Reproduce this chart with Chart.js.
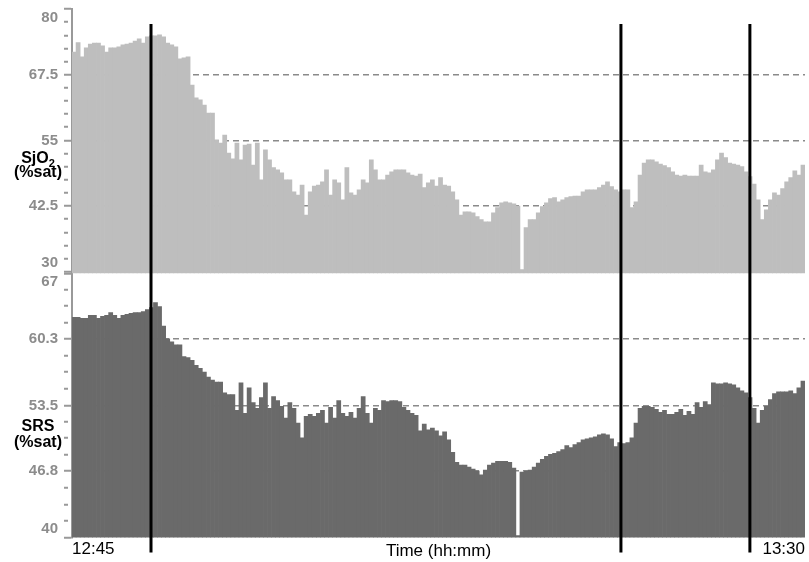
<!DOCTYPE html>
<html>
<head>
<meta charset="utf-8">
<script src="https://cdn.jsdelivr.net/npm/chart.js@4/dist/chart.umd.min.js"></script>
<style>
  html, body { margin: 0; padding: 0; background: #fff; }
  #wrap { position: relative; width: 809px; height: 562px; }
</style>
</head>
<body>
<div id="wrap"><canvas id="teh_canvas" width="809" height="562"></canvas></div>
<script>
// one bar every 15 s from 12:45 to 13:30
var startTime = '12:45:00';
var stepSeconds = 15;
var xEndLabels = ['12:45', '13:30'];
var xTitle = 'Time (hh:mm)';
var markerTimes = ['12:49:51', '13:18:42', '13:26:37'];

var sjo2Ticks = [30, 42.5, 55, 67.5, 80];
var srsTicks = [40, 46.8, 53.5, 60.3, 67];

var sjo2Values = [
  71.8, 73.6, 70.9, 72.6, 73.3, 73.5, 73.5, 73.0, 71.8, 72.6,
  72.6, 72.8, 73.2, 73.3, 73.5, 73.9, 74.3, 73.5, 74.7, 74.9,
  74.9, 75.1, 74.7, 73.5, 73.2, 72.8, 70.5, 70.7, 70.9, 65.5,
  63.1, 62.7, 61.7, 60.2, 60.2, 55.1, 54.5, 56.0, 52.6, 51.5,
  54.5, 51.3, 54.1, 54.3, 50.3, 54.5, 47.5, 53.2, 51.3, 49.8,
  49.4, 48.8, 47.5, 47.5, 45.2, 44.6, 46.5, 40.8, 45.2, 46.3,
  46.5, 47.1, 49.4, 44.6, 47.5, 46.9, 43.7, 49.8, 45.0, 44.6,
  45.6, 47.5, 46.9, 51.3, 49.4, 47.5, 47.5, 48.4, 49.0, 49.4,
  49.4, 49.4, 48.8, 48.4, 48.2, 48.6, 46.0, 46.9, 47.5, 46.3,
  47.9, 46.5, 46.3, 45.2, 43.7, 40.8, 41.4, 41.4, 41.2, 40.5,
  39.9, 39.5, 39.5, 41.2, 42.2, 43.1, 43.3, 43.1, 42.9, 42.5,
  30.4, 38.4, 39.9, 39.9, 41.2, 42.4, 43.1, 43.9, 44.1, 43.3,
  43.7, 44.1, 44.3, 44.4, 44.4, 45.2, 45.6, 45.6, 45.6, 46.0,
  46.5, 47.1, 46.2, 45.6, 45.2, 45.6, 45.6, 42.2, 43.3, 48.4,
  50.7, 51.3, 51.3, 50.9, 50.5, 50.2, 49.8, 49.0, 48.4, 48.2,
  48.4, 48.2, 48.2, 48.2, 50.3, 49.0, 48.8, 49.4, 51.3, 52.6,
  51.7, 50.7, 50.5, 50.3, 50.0, 49.0, 48.1, 46.7, 43.7, 39.9,
  41.8, 43.7, 45.0, 44.6, 45.8, 47.1, 47.9, 49.2, 48.4, 50.3
];

var srsValues = [
  62.5, 62.5, 62.4, 62.4, 62.7, 62.7, 62.4, 62.6, 62.7, 63.0,
  62.7, 62.4, 62.7, 62.8, 62.9, 63.0, 63.0, 63.1, 63.3, 63.5,
  64.0, 63.6, 61.6, 60.3, 60.0, 59.7, 59.7, 58.5, 58.4, 58.1,
  57.6, 57.3, 56.9, 56.4, 56.1, 55.9, 55.9, 54.8, 54.6, 54.6,
  53.0, 55.8, 52.7, 55.3, 53.8, 53.2, 54.3, 55.8, 53.2, 54.4,
  54.0, 53.4, 52.2, 53.8, 53.2, 51.7, 50.2, 52.4, 52.6, 52.4,
  52.7, 53.0, 51.7, 53.3, 52.2, 54.0, 52.7, 52.4, 52.8, 52.2,
  53.2, 54.4, 52.7, 51.7, 53.2, 53.0, 54.0, 53.9, 54.0, 54.0,
  53.9, 53.3, 53.0, 52.7, 52.5, 50.9, 51.6, 51.0, 51.2, 50.9,
  50.4, 50.8, 50.0, 48.7, 47.7, 47.4, 47.4, 47.2, 47.0, 46.8,
  46.4, 46.9, 47.4, 47.6, 47.8, 47.8, 47.8, 47.7, 47.1, 40.2,
  46.7, 46.8, 46.9, 47.2, 47.6, 48.0, 48.3, 48.5, 48.6, 48.8,
  49.0, 49.4, 49.2, 49.5, 49.7, 50.0, 50.1, 50.2, 50.3, 50.5,
  50.6, 50.5, 50.1, 49.3, 49.7, 49.6, 49.7, 50.2, 51.7, 53.2,
  53.4, 53.4, 53.3, 53.1, 52.8, 53.0, 52.6, 52.6, 52.8, 53.1,
  52.5, 52.9, 52.6, 53.8, 53.3, 53.9, 53.6, 55.8, 55.7, 55.7,
  55.8, 55.7, 55.6, 55.3, 55.0, 54.8, 54.3, 53.2, 51.7, 53.0,
  53.4, 54.1, 54.7, 54.9, 54.9, 54.9, 55.0, 54.7, 55.3, 56.0
];

var tickGrey = '#8c8c8c';

function toSeconds(hms) {
    var p = hms.split(':');
    return (+p[0]) * 3600 + (+p[1]) * 60 + (+(p[2] || 0));
}

function pad2(n) { return (n < 10 ? '0' : '') + n; }

var t0 = toSeconds(startTime);
var categories = sjo2Values.map(function(v, i) {
    var s = t0 + i * stepSeconds;
    return pad2(Math.floor(s / 3600)) + ':' + pad2(Math.floor(s % 3600 / 60)) + ':' + pad2(s % 60);
});

// major ticks plus evenly spaced minor ticks between them
function withMinors(majors, parts) {
    var out = [];
    for (var i = 0; i < majors.length - 1; i++) {
        for (var k = 0; k < parts; k++) {
            out.push(majors[i] + (majors[i + 1] - majors[i]) * k / parts);
        }
    }
    out.push(majors[majors.length - 1]);
    return out;
}

function isMajor(list, v) {
    return list.some(function(m) { return Math.abs(m - v) < 1e-6; });
}

function yAxis(majors, parts, min, max, weight) {
    var lo = majors[0], hi = majors[majors.length - 1];
    return {
        type: 'linear',
        position: 'left',
        stack: 'sat',
        stackWeight: 1,
        weight: weight,
        min: min,
        max: max,
        afterBuildTicks: function(scale) {
            scale.ticks = withMinors(majors, parts).map(function(v) { return { value: v }; });
        },
        afterFit: function(scale) {
            scale.width = 72;
            // don't let the end labels push the plot area around
            scale.paddingTop = 0;
            scale.paddingBottom = 0;
        },
        ticks: {
            autoSkip: false,
            padding: 6,
            color: tickGrey,
            font: { size: 15, weight: 'bold' },
            callback: function(v) {
                if (!isMajor(majors, v)) return '';
                // end labels sit inside the panel, not on the shared border
                if (v === lo) return [String(v), ''];
                if (v === hi) return ['', String(v)];
                return String(v);
            }
        },
        grid: {
            drawTicks: true,
            tickLength: 8,
            tickWidth: 2,
            tickColor: '#999',
            lineWidth: 1.5,
            tickBorderDash: function(ctx) {
                return ctx.tick && isMajor(majors, ctx.tick.value) ? [] : [4, 20];
            },
            color: function(ctx) {
                var v = ctx.tick ? ctx.tick.value : null;
                var inner = v !== null && isMajor(majors, v) && v !== lo && v !== hi;
                return inner ? '#8a8a8a' : 'rgba(0,0,0,0)';
            }
        },
        border: { display: true, color: '#999', width: 2, dash: [6, 4] }
    };
}

var markerPlugin = {
    id: 'markers',
    afterDatasetsDraw: function(chart) {
        var ctx = chart.ctx, area = chart.chartArea, xs = chart.scales.x;
        ctx.save();
        ctx.strokeStyle = '#000';
        ctx.lineWidth = 3;
        markerTimes.forEach(function(t) {
            var idx = (toSeconds(t) - t0) / stepSeconds - 0.5;
            var x = xs.getPixelForValue(idx);
            ctx.beginPath();
            ctx.moveTo(x, area.top + 15);
            ctx.lineTo(x, area.bottom + 15);
            ctx.stroke();
        });
        ctx.restore();
    }
};

var yTitlePlugin = {
    id: 'yTitles',
    afterDraw: function(chart) {
        var ctx = chart.ctx;
        var cx = 38;
        ctx.save();
        ctx.fillStyle = '#000';
        ctx.textBaseline = 'alphabetic';

        // SjO2 with subscript
        var top = chart.scales.ySjo.top;
        ctx.font = 'bold 16px "Liberation Sans", Arial, sans-serif';
        var w1 = ctx.measureText('SjO').width;
        ctx.font = 'bold 11px "Liberation Sans", Arial, sans-serif';
        var w2 = ctx.measureText('2').width;
        var x0 = cx - (w1 + w2) / 2;
        ctx.font = 'bold 16px "Liberation Sans", Arial, sans-serif';
        ctx.textAlign = 'left';
        ctx.fillText('SjO', x0, top + 154);
        ctx.font = 'bold 11px "Liberation Sans", Arial, sans-serif';
        ctx.fillText('2', x0 + w1, top + 158);
        ctx.font = 'bold 16px "Liberation Sans", Arial, sans-serif';
        ctx.textAlign = 'center';
        ctx.fillText('(%sat)', cx, top + 168);

        var top2 = chart.scales.ySrs.top;
        ctx.fillText('SRS', cx, top2 + 158);
        ctx.fillText('(%sat)', cx, top2 + 174);
        ctx.restore();
    }
};

Chart.defaults.font.family = '"Liberation Sans", Arial, sans-serif';

var chart = new Chart(document.getElementById('teh_canvas'), {
    type: 'bar',
    data: {
        labels: categories,
        datasets: [
            { label: 'SjO2', data: sjo2Values, yAxisID: 'ySjo', backgroundColor: '#bebebe',
              grouped: false, barPercentage: 1, categoryPercentage: 1, borderWidth: 0 },
            { label: 'SRS', data: srsValues, yAxisID: 'ySrs', backgroundColor: '#6a6a6a',
              grouped: false, barPercentage: 1, categoryPercentage: 1, borderWidth: 0 }
        ]
    },
    options: {
        responsive: false,
        animation: false,
        devicePixelRatio: 1,
        layout: { padding: { top: 9, right: 4, bottom: 0, left: 0 } },
        plugins: { legend: { display: false }, tooltip: { enabled: false } },
        scales: {
            x: {
                type: 'category',
                afterBuildTicks: function(scale) {
                    scale.ticks = [{ value: -0.5 }, { value: categories.length - 0.5 }];
                },
                grid: { display: false, drawTicks: false },
                border: { display: false },
                ticks: {
                    autoSkip: false,
                    maxRotation: 0,
                    align: 'inner',
                    padding: 2,
                    color: '#000',
                    font: { size: 17 },
                    callback: function(v, i) { return xEndLabels[i]; }
                },
                title: {
                    display: true,
                    text: xTitle,
                    color: '#000',
                    font: { size: 17 },
                    padding: { top: -20.4, bottom: 0 }
                }
            },
            ySjo: yAxis(sjo2Ticks, 5, 29.7, 80, 2),
            ySrs: yAxis(srsTicks, 4, 40, 67, 1)
        }
    },
    plugins: [markerPlugin, yTitlePlugin]
});
</script>
</body>
</html>
